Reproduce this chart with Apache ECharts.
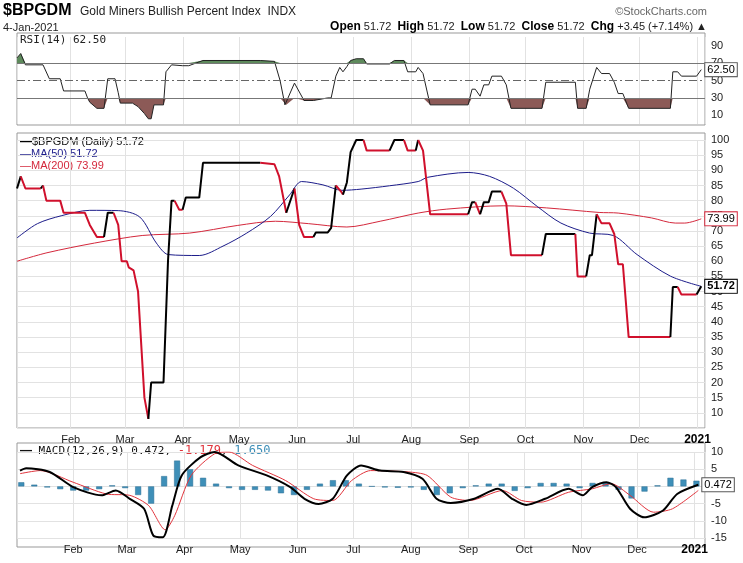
<!DOCTYPE html>
<html>
<head>
<meta charset="utf-8">
<script src="https://cdn.jsdelivr.net/npm/echarts@6/dist/echarts.min.js"></script>
<style>
  html, body { margin: 0; padding: 0; background: #fff; }
  #chart { width: 743px; height: 563px; }
</style>
</head>
<body>
<div id="chart"></div>
<script>
// day numbers count from 1-Jan-2020
const priceData = [[2.3,84],[4.3,88],[6.8,84],[15,84],[16.2,85],[18,80],[25.4,80],[27.2,76],[38.6,76],[41.2,72],[45,68],[48.8,68],[50.8,76],[53.9,76],[56.4,72],[58.2,60],[61,60],[62,58],[64.6,57],[67,50],[67.9,50],[70.4,15],[72.5,8],[74,20],[80.6,20],[83,60],[84.9,80],[86.5,80],[89,77],[90.8,77],[92.5,81],[99.7,81],[101.7,92.5],[132.3,92.5],[133,92],[139.9,92],[142.4,88],[146.2,76],[150.6,84],[153.1,72],[155.7,68],[160.7,68],[162,69.5],[168.4,69.5],[170.2,71],[172.7,85],[175.5,83],[176.5,82],[178.6,86],[180.6,96],[183.6,100],[187.5,100],[189.2,96.5],[201.4,96.5],[204,100],[209.1,100],[211.1,96.5],[215.4,96.5],[216.7,100],[219.3,96.5],[223.1,75.5],[243.4,75.5],[245.5,79.5],[247.2,79.5],[249.8,75.5],[251.8,79.5],[254.4,79.5],[256.1,83],[261.2,83],[263.8,79],[266.3,62],[282.9,62],[284.9,69],[300.7,69],[301.9,55],[306.5,55],[308.4,62],[309.6,62],[312.1,75.5],[314.7,72.5],[319,72.5],[321.5,69],[323.6,59],[326.1,59],[329.2,35],[351.5,35],[352.8,51.5],[355.4,51.5],[357.4,49],[365.5,49],[368,51.72]];
const ma50Data = [[2.3,67.7],[13.2,72.4],[25.9,75],[41.2,76.8],[56.4,76.7],[67.9,74.6],[76.8,66],[83.2,62.2],[99.7,61.9],[112.4,65],[125.1,69.3],[137.8,74.8],[148,81.9],[154.4,86.3],[165.8,85.2],[176,83.4],[186.2,83.8],[201.4,84.9],[216.7,86.3],[221.8,87.7],[243.4,89.3],[254.9,88],[267.6,84.1],[280.3,78.1],[293,72.6],[308.3,69.3],[321,68.5],[333.7,62.2],[351.5,55.1],[368,51.72]];
const ma200Data = [[2.3,60],[18.3,62.8],[43.7,66],[69.2,68.5],[94.6,69.3],[120,71.8],[140.4,73.2],[158.2,72.4],[178.6,71.3],[196.4,73.2],[216.7,75.9],[232,77.2],[262.5,78.3],[285.4,77.6],[313.4,76.1],[323.6,75.9],[341.4,74.3],[354.1,72.6],[359.2,72.6],[368,73.99]];
const rsiData = [[2.3,76],[4.3,81],[6.8,68],[16.2,68],[19.6,52],[25.4,52],[27.2,38],[38.6,38],[40,30],[41.2,25],[45,18],[48.8,18],[50.8,52],[54.7,52],[56.4,36],[57.5,24],[64,24],[67,20],[70.4,12],[72.5,6],[74,6],[75.5,22],[80.6,22],[81.9,60],[84.9,68],[90.8,67],[94.1,67],[101.7,73],[132.3,73],[139.9,72],[142.9,50],[145.5,22],[146.2,22],[150.6,47],[155.7,27],[160.7,27],[168.4,30],[170.2,30],[172.7,55],[174.8,65],[176.5,60],[178.6,66],[180.6,73],[183.6,75],[187.5,75],[189.2,69],[201.4,69],[204,73],[209.1,73],[211.1,60],[215.4,60],[216.7,65],[219.3,58],[223.1,22],[243.4,22],[245.5,40],[247.2,40],[249.8,32],[251.8,45],[254.4,45],[256.1,55],[261.2,55],[263.8,45],[266.3,18],[282.9,18],[284.9,48],[300.7,48],[301.9,18],[306.5,18],[308.4,40],[312.1,65],[314.7,58],[319,58],[321.5,48],[323.6,35],[326.1,35],[329.2,18],[351.5,18],[352.8,60],[355.4,60],[357.4,55],[365.5,55],[368,62.5]];
const macdData = [[2.3,4.6],[5.6,5.3],[18.3,4.2],[31,-0.2],[46.3,-2.6],[53.9,-1.2],[61.5,-3.6],[69.2,-6.5],[74.2,-14.3],[79.3,-14.8],[84.4,-5.6],[89.5,3.2],[99.7,8.5],[107.3,10],[120,6.1],[135.3,3.2],[148,-0.2],[155.7,-3.6],[163.3,-5.1],[170.9,-3.6],[178.6,3.2],[186.2,6.1],[196.4,4.6],[209.1,4.2],[219.3,2.2],[226.9,-3.6],[234.5,-4.8],[247.2,-3.6],[260,-0.7],[267.6,-3.6],[275.2,-5.4],[285.4,-3.6],[298.1,-0.7],[305.7,-2.6],[310.8,-0.2],[318.5,1.2],[323.6,-0.2],[331.2,-6.5],[338.8,-9],[349,-7],[356.6,-2.2],[368,0.472]];
const signalData = [[2.3,3.7],[13.2,4.6],[31,1.2],[48.8,-2.2],[61.5,-2.6],[71.7,-5.6],[80.6,-12.6],[85.7,-8.5],[94.6,3.2],[107.3,9.5],[115,10],[127.7,6.1],[145.5,1.7],[160.7,-3.6],[170.9,-4.1],[181.1,1.7],[191.3,4.6],[211.6,4.2],[221.8,3.2],[234.5,-3.1],[244.7,-4.1],[262.5,-1.2],[272.7,-4.1],[282.9,-4.6],[298.1,-1.7],[310.8,-0.7],[321,0.8],[331.2,-2.6],[343.9,-7.5],[354.1,-6.5],[368,-1.179]];
const histDays = [3,10,17,24,31,38,45,52,59,66,73,80,87,94,101,108,115,122,129,136,143,150,157,164,171,178,185,192,199,206,213,220,227,234,241,248,255,262,269,276,283,290,297,304,311,318,325,332,339,346,353,360,367];
const histValues = [1.2,0.5,-0.3,-0.8,-1.2,-1.2,-0.8,0.3,-0.5,-2.5,-5,3,7.5,5,2.5,0.8,-0.5,-1,-1,-1.2,-2,-2.5,-1,0.8,1.8,1.8,0.8,0,-0.3,-0.4,-0.3,-1,-2.5,-2,-0.5,0.3,0.8,0.8,-1.3,-0.5,1,1,0.8,-0.5,1,1.2,-1,-3.5,-1.5,0.3,2.5,2,1.65];
const priceTicks = [10,15,20,25,30,35,40,45,50,55,60,65,70,75,80,85,90,95,100];
const rsiTicks = [10,30,50,70,90];
const months = ['Jan','Feb','Mar','Apr','May','Jun','Jul','Aug','Sep','Oct','Nov','Dec'];

const DAY = 86400000;
const t0 = new Date(2020, 0, 1).getTime();
const ts = d => t0 + d * DAY;
const conv = arr => arr.map(p => [ts(p[0]), p[1]]);
const FONT = 'Liberation Sans';
const UP = '#000000', DOWN = '#d0102c';

const chart = echarts.init(document.getElementById('chart'));

// split price line into runs coloured by direction
const priceRuns = [];
let cur = null, lastDir = UP;
for (let i = 1; i < priceData.length; i++) {
  const a = priceData[i - 1], b = priceData[i];
  let dir = b[1] > a[1] ? UP : b[1] < a[1] ? DOWN : lastDir;
  lastDir = dir;
  if (!cur || cur.color !== dir) {
    cur = { color: dir, pts: [a] };
    priceRuns.push(cur);
  }
  cur.pts.push(b);
}

const xMin = ts(2.3), xMax = ts(370);
function xAxisFor(grid, showLabels) {
  return {
    type: 'time', gridIndex: grid, min: xMin, max: xMax,
    minInterval: 28 * DAY, maxInterval: 31 * DAY,
    axisLine: { show: false }, axisTick: { show: false },
    splitLine: { show: true, lineStyle: { color: '#e2e2e2' } },
    axisLabel: {
      show: showLabels, fontFamily: FONT, fontSize: 11, color: '#222', margin: 6,
      formatter: v => {
        const d = new Date(v);
        return d.getMonth() === 0 ? '{b|' + d.getFullYear() + '}' : months[d.getMonth()];
      },
      rich: { b: { fontWeight: 'bold', fontSize: 12, fontFamily: FONT, color: '#000' } }
    }
  };
}

const series = [];
// RSI panel
const rsiLowBase = rsiData.map(p => [ts(p[0]), Math.min(p[1], 30)]);
const rsiLowFill = rsiData.map(p => [ts(p[0]), 30 - Math.min(p[1], 30)]);
const rsiHighFill = rsiData.map(p => [ts(p[0]), Math.max(p[1], 70) - 70]);
series.push({ type: 'line', xAxisIndex: 0, yAxisIndex: 0, stack: 'lo', data: rsiLowBase, symbol: 'none', lineStyle: { opacity: 0 }, silent: true });
series.push({ type: 'line', xAxisIndex: 0, yAxisIndex: 0, stack: 'lo', data: rsiLowFill, symbol: 'none', lineStyle: { opacity: 0 }, areaStyle: { color: '#8c5a57', opacity: 1 }, silent: true });
series.push({ type: 'line', xAxisIndex: 0, yAxisIndex: 0, stack: 'hi', data: rsiData.map(p => [ts(p[0]), 70]), symbol: 'none', lineStyle: { opacity: 0 }, silent: true });
series.push({ type: 'line', xAxisIndex: 0, yAxisIndex: 0, stack: 'hi', data: rsiHighFill, symbol: 'none', lineStyle: { opacity: 0 }, areaStyle: { color: '#5e8a5c', opacity: 1 }, silent: true });
series.push({
  type: 'line', xAxisIndex: 0, yAxisIndex: 0, data: conv(rsiData), symbol: 'none',
  lineStyle: { color: '#222', width: 1 },
  endLabel: { show: true, formatter: '62.50', fontFamily: FONT, fontSize: 11, color: '#000', backgroundColor: '#fff', borderColor: '#555', borderWidth: 1, padding: [1, 2], distance: 4 },
  markLine: {
    symbol: 'none', silent: true, label: { show: false },
    data: [
      { yAxis: 70, lineStyle: { color: '#777', type: 'solid', width: 1 } },
      { yAxis: 30, lineStyle: { color: '#777', type: 'solid', width: 1 } },
      { yAxis: 50, lineStyle: { color: '#666', type: [8, 3, 2, 3], width: 1 } }
    ]
  }
});

// price panel
series.push({ type: 'line', xAxisIndex: 1, yAxisIndex: 1, data: conv(ma200Data), symbol: 'none', smooth: 0.3, lineStyle: { color: '#d4283c', width: 1 },
  endLabel: { show: true, formatter: '73.99', fontFamily: FONT, fontSize: 11, color: '#000', backgroundColor: '#fff', borderColor: '#d4283c', borderWidth: 1, padding: [1, 2], distance: 4 } });
series.push({ type: 'line', xAxisIndex: 1, yAxisIndex: 1, data: conv(ma50Data), symbol: 'none', smooth: 0.3, lineStyle: { color: '#1c1c8a', width: 1 } });
priceRuns.forEach((r, i) => {
  const s = { type: 'line', xAxisIndex: 1, yAxisIndex: 1, data: conv(r.pts), symbol: 'none', clip: false, lineStyle: { color: r.color, width: 2 } };
  if (i === priceRuns.length - 1) {
    s.endLabel = { show: true, formatter: '51.72', fontFamily: FONT, fontSize: 11, fontWeight: 'bold', color: '#000', backgroundColor: '#fff', borderColor: '#000', borderWidth: 1, padding: [1, 2], distance: 4 };
  }
  series.push(s);
});

// MACD panel
series.push({ type: 'bar', xAxisIndex: 2, yAxisIndex: 2, data: histDays.map((d, i) => [ts(d), histValues[i]]), barWidth: 6, itemStyle: { color: '#3e8fb8', borderColor: '#2a6e94', borderWidth: 0.5 } });
series.push({ type: 'line', xAxisIndex: 2, yAxisIndex: 2, data: conv(signalData), symbol: 'none', smooth: 0.25, lineStyle: { color: '#e0343c', width: 1 } });
series.push({ type: 'line', xAxisIndex: 2, yAxisIndex: 2, data: conv(macdData), symbol: 'none', smooth: 0.25, lineStyle: { color: '#000', width: 2 },
  endLabel: { show: true, formatter: '0.472', fontFamily: FONT, fontSize: 11, color: '#000', backgroundColor: '#fff', borderColor: '#555', borderWidth: 1, padding: [1, 2], distance: 4 } });

const yLabel = { fontFamily: FONT, fontSize: 11, color: '#222', margin: 6 };

const option = {
  animation: false,
  backgroundColor: '#fff',
  grid: [
    { left: 17, right: 38, top: 37, height: 87 },
    { left: 17, right: 38, top: 140, height: 288 },
    { left: 17, right: 38, top: 452, height: 86 }
  ],
  xAxis: [xAxisFor(0, false), xAxisFor(1, true), xAxisFor(2, true)],
  yAxis: [
    { type: 'value', gridIndex: 0, position: 'right', min: 0, max: 100, interval: 10,
      splitLine: { show: false }, axisLine: { show: false }, axisTick: { show: false },
      axisLabel: Object.assign({}, yLabel, { formatter: v => rsiTicks.includes(v) ? v : '' }) },
    { type: 'value', gridIndex: 1, position: 'right', min: 5, max: 100, interval: 5,
      splitLine: { show: true, lineStyle: { color: '#e2e2e2' } }, axisLine: { show: false }, axisTick: { show: false },
      axisLabel: Object.assign({}, yLabel, { formatter: v => priceTicks.includes(v) ? v : '' }) },
    { type: 'value', gridIndex: 2, position: 'right', min: -15, max: 10, interval: 5,
      splitLine: { show: true, lineStyle: { color: '#e2e2e2' } }, axisLine: { show: false }, axisTick: { show: false },
      axisLabel: yLabel }
  ],
  series: series,
  graphic: [
    { type: 'rect', shape: { x: 17, y: 33, width: 688, height: 92 }, style: { fill: 'none', stroke: '#999', lineWidth: 1 }, silent: true },
    { type: 'rect', shape: { x: 17, y: 133, width: 688, height: 295 }, style: { fill: 'none', stroke: '#999', lineWidth: 1 }, silent: true },
    { type: 'rect', shape: { x: 17, y: 443, width: 688, height: 104 }, style: { fill: 'none', stroke: '#999', lineWidth: 1 }, silent: true },
    { type: 'text', left: 3, top: 3, style: { text: '$BPGDM', font: 'bold 16px "Liberation Sans"', fill: '#000' } },
    { type: 'text', left: 80, top: 6, style: { text: 'Gold Miners Bullish Percent Index  INDX', font: '12px "Liberation Sans"', fill: '#222' } },
    { type: 'text', left: 3, top: 22, style: { text: '4-Jan-2021', font: '11px "Liberation Sans"', fill: '#222' } },
    { type: 'text', right: 36, top: 6, style: { text: '\u00A9StockCharts.com', font: '11px "Liberation Sans"', fill: '#666' } },
    { type: 'text', right: 36, top: 21, style: {
      text: '{b|Open} 51.72  {b|High} 51.72  {b|Low} 51.72  {b|Close} 51.72  {b|Chg} +3.45 (+7.14%) \u25B2',
      font: '11px "Liberation Sans"', fill: '#222',
      rich: { b: { fontWeight: 'bold', fontSize: 12, fontFamily: FONT, fill: '#000' } } } },
    { type: 'text', left: 20, top: 35, style: { text: 'RSI(14) 62.50', font: '11px "DejaVu Sans Mono"', fill: '#222' } },
    { type: 'text', left: 20, top: 136, style: {
      text: '{k|\u2014}$BPGDM (Daily) 51.72\n{n|\u2014MA(50) 51.72}\n{r|\u2014MA(200) 73.99}',
      font: '11px "Liberation Sans"', fill: '#111', lineHeight: 12, backgroundColor: 'rgba(255,255,255,0.85)',
      rich: { k: { fill: '#000', fontWeight: 'bold' }, n: { fill: '#1c1c8a', fontSize: 11 }, r: { fill: '#d4283c', fontSize: 11 } } } },
    { type: 'text', left: 20, top: 445, style: {
      text: '{k|\u2014} MACD(12,26,9) 0.472, {r|-1.179}, {c|1.650}',
      font: '11px "DejaVu Sans Mono"', fill: '#111', backgroundColor: 'rgba(255,255,255,0.85)',
      rich: { k: { fontWeight: 'bold' }, r: { fill: '#e0343c', fontFamily: 'DejaVu Sans Mono' }, c: { fill: '#3e8fb8', fontFamily: 'DejaVu Sans Mono' } } } }
  ]
};
chart.setOption(option);
</script>
</body>
</html>
